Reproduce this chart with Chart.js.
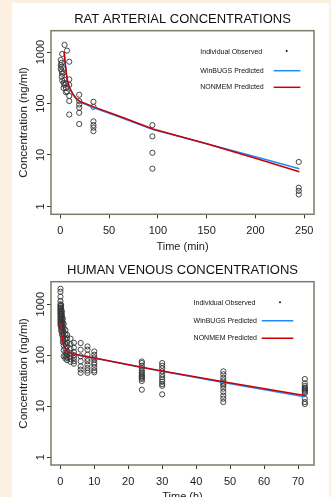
<!DOCTYPE html>
<html>
<head>
<meta charset="utf-8">
<script src="https://cdn.jsdelivr.net/npm/chart.js@4.4.0/dist/chart.umd.min.js"></script>
<style>
  html, body { margin: 0; padding: 0; }
  body { width: 331px; height: 497px; overflow: hidden; background: #fbf0e1; position: relative; }
  #sheet { position: absolute; left: 12px; top: 3px; width: 317px; height: 500px; background: #fff; }
  .panel { position: absolute; left: 0; width: 331px; height: 254px; }
  #ratPanel { top: 0; }
  #humanPanel { top: 250px; }
</style>
</head>
<body>
<div id="sheet"></div>
<div class="panel" id="ratPanel"><canvas id="ratChart"></canvas></div>
<div class="panel" id="humanPanel"><canvas id="humanChart"></canvas></div>
<script>
// text
const plotTitles = ['RAT ARTERIAL CONCENTRATIONS', 'HUMAN VENOUS CONCENTRATIONS'];
const xAxisTitles = ['Time (min)', 'Time (h)'];
const yAxisTitle = 'Concentration (ng/ml)';
const legendLabels = ['Individual Observed', 'WinBUGS Predicted', 'NONMEM Predicted'];

// tick labels
const yTickValues = [1, 10, 100, 1000];
const ratXTicks = [0, 50, 100, 150, 200, 250];
const humanXTicks = [0, 10, 20, 30, 40, 50, 60, 70];

// rat observed: sample times (min) and concentrations at each time (ng/ml)
const ratSampleTimes = [0.5, 1.5, 2, 3.4, 4.4, 5.8, 6.9, 9.2, 19.4, 34, 94.4, 244.4];
const ratConcAtTime = [
    [700, 560, 470],
    [620, 520, 420, 330],
    [920, 380, 280],
    [400, 250, 200],
    [1380, 290, 230],
    [250, 200, 165],
    [1070, 172],
    [650, 295, 230, 140, 112, 61],
    [148, 112, 95, 83, 66, 40],
    [108, 86, 45, 38, 34, 29],
    [38, 23, 11, 5.4],
    [7.3, 2.3, 2.0, 1.7]
];

// rat predicted curves
const ratPredTime = [4, 5, 7, 9.5, 13, 17, 21, 35, 60, 95, 150, 200, 245];
const ratWinbugs = [1000, 600, 290, 200, 148, 118, 105, 82, 55, 31, 16.5, 9.2, 5.4];
const ratNonmem = [1000, 620, 300, 205, 152, 122, 108, 85, 57, 32, 16.5, 8.6, 4.7];

// human observed: sample times (h) and concentrations at each time (ng/ml)
const humanSampleTimes = [0.05, 0.25, 0.5, 0.75, 1, 1.5, 2, 3, 4, 6, 8, 10, 24, 30, 48, 72];
const humanConcAtTime = [
    [2000, 1750, 1400, 1150, 1000, 920, 860, 800, 740, 690, 640, 590, 540, 500, 460, 420, 380],
    [960, 840, 740, 650, 570, 500, 440, 390, 340, 300],
    [720, 610, 530, 460, 400, 340, 290, 250],
    [520, 440, 370, 310, 260, 215, 180],
    [410, 340, 280, 230, 190, 155, 125, 95],
    [310, 255, 205, 165, 135, 112, 96, 86],
    [250, 215, 175, 148, 120, 102, 90, 80],
    [210, 165, 135, 110, 95, 84, 74],
    [175, 140, 115, 100, 88, 76, 68],
    [173, 128, 95, 76, 60, 52, 45],
    [148, 128, 102, 85, 76, 65, 56, 50, 45],
    [118, 102, 90, 82, 72, 65, 57, 50, 46],
    [75, 70, 62, 56, 50, 46, 43, 40, 38, 36, 34, 31, 21],
    [70, 62, 55, 48, 42, 37, 33, 30, 27, 25, 17],
    [48, 42, 36, 32, 29, 27, 25, 22, 19, 16, 14, 12],
    [34, 28, 25, 23, 22, 21, 20, 19, 18, 14, 12, 11]
];

// human predicted curves
const humanPredTime = [0.08, 0.5, 1, 2, 3.5, 6, 10, 24, 30, 48, 72];
const humanWinbugs = [430, 230, 150, 118, 107, 98, 88, 57, 48, 29, 15.2];
const humanNonmem = [430, 235, 152, 118, 107, 98, 88, 58, 49, 30, 16.2];

const FONT = '"Liberation Sans", Arial, sans-serif';
Chart.defaults.font.family = FONT;

const panelBox = {
    id: 'panelBox',
    afterDraw(chart) {
        const a = chart.chartArea;
        const ctx = chart.ctx;
        ctx.save();
        ctx.strokeStyle = '#7a7d69';
        ctx.lineWidth = 1.5;
        ctx.strokeRect(a.left, a.top, a.right - a.left, a.bottom - a.top);
        ctx.restore();
    }
};

const insetLegend = {
    id: 'insetLegend',
    afterDatasetsDraw(chart, args, opts) {
        const a = chart.chartArea;
        const ctx = chart.ctx;
        ctx.save();
        ctx.font = '7px ' + FONT;
        ctx.fillStyle = '#111';
        ctx.textBaseline = 'middle';
        legendLabels.forEach((label, i) => {
            const y = a.top + opts.rows[i];
            ctx.fillText(label, a.left + opts.textX, y);
            if (i === 0) {
                ctx.beginPath();
                ctx.arc(a.right - opts.dotX, y - 1, 1, 0, Math.PI * 2);
                ctx.fill();
            } else {
                ctx.strokeStyle = chart.data.datasets[i].borderColor;
                ctx.lineWidth = 1.5;
                ctx.beginPath();
                ctx.moveTo(a.right - opts.lineFrom, y);
                ctx.lineTo(a.right - opts.lineTo, y);
                ctx.stroke();
            }
        });
        ctx.restore();
    }
};

function toPoints(xs, ys) {
    return xs.map((x, i) => ({ x: x, y: ys[i] }));
}

function observedPoints(times, concs) {
    const pts = [];
    times.forEach((t, i) => {
        concs[i].forEach(c => pts.push({ x: t, y: c }));
    });
    return pts;
}

function makeChart(canvasId, cfg) {
    const tickGrid = {
        drawOnChartArea: false,
        drawTicks: true,
        tickLength: 4,
        tickColor: '#333',
        tickWidth: 1
    };
    return new Chart(document.getElementById(canvasId), {
        type: 'scatter',
        data: {
            datasets: [
                {
                    label: legendLabels[0],
                    data: observedPoints(cfg.sampleTimes, cfg.concAtTime),
                    pointStyle: 'circle',
                    pointRadius: 2.6,
                    borderWidth: 0.9,
                    borderColor: '#333',
                    backgroundColor: 'rgba(0,0,0,0)',
                    order: 2
                },
                {
                    label: legendLabels[1],
                    data: toPoints(cfg.predTime, cfg.winbugs),
                    showLine: true,
                    pointRadius: 0,
                    borderColor: '#1e8cff',
                    borderWidth: 1.5,
                    order: 1
                },
                {
                    label: legendLabels[2],
                    data: toPoints(cfg.predTime, cfg.nonmem),
                    showLine: true,
                    pointRadius: 0,
                    borderColor: '#cc0000',
                    borderWidth: 1.5,
                    order: 0
                }
            ]
        },
        options: {
            responsive: true,
            maintainAspectRatio: false,
            animation: false,
            devicePixelRatio: 1,
            layout: { padding: { left: 0, right: 17, top: 0, bottom: 0 } },
            plugins: {
                legend: { display: false },
                tooltip: { enabled: false },
                title: {
                    display: true,
                    text: cfg.title,
                    fullSize: false,
                    color: '#111',
                    font: { size: 13, weight: 'normal' },
                    padding: cfg.titlePad
                },
                insetLegend: cfg.legend
            },
            scales: {
                x: {
                    type: 'linear',
                    min: cfg.xMin,
                    max: cfg.xMax,
                    afterBuildTicks: s => { s.ticks = cfg.xTicks.map(v => ({ value: v })); },
                    afterFit: s => { s.height = cfg.xAxisHeight; },
                    grid: tickGrid,
                    border: { display: false },
                    ticks: { padding: 6.5, color: '#222', font: { size: 11 }, maxRotation: 0, autoSkip: false },
                    title: { display: true, text: cfg.xTitle, color: '#222', font: { size: 11 }, padding: { top: 0, bottom: 0 } }
                },
                y: {
                    type: 'logarithmic',
                    min: cfg.yMin,
                    max: cfg.yMax,
                    afterBuildTicks: s => { s.ticks = yTickValues.map(v => ({ value: v })); },
                    afterFit: s => { s.width = 51; },
                    grid: tickGrid,
                    border: { display: false },
                    ticks: {
                        padding: -6,
                        crossAlign: 'center',
                        minRotation: 90,
                        maxRotation: 90,
                        autoSkip: false,
                        color: '#222',
                        font: { size: 11 },
                        callback: v => String(v)
                    },
                    title: { display: true, text: yAxisTitle, color: '#222', font: { size: 11.5 }, padding: { top: 17, bottom: 0 } }
                }
            }
        },
        plugins: [panelBox, insetLegend]
    });
}

makeChart('ratChart', {
    title: plotTitles[0],
    xTitle: xAxisTitles[0],
    sampleTimes: ratSampleTimes,
    concAtTime: ratConcAtTime,
    predTime: ratPredTime,
    winbugs: ratWinbugs,
    nonmem: ratNonmem,
    xMin: -9.5, xMax: 260, xTicks: ratXTicks,
    yMin: 0.732, yMax: 2606,
    xAxisHeight: 39.7,
    titlePad: { top: 11.2, bottom: 3.9 },
    legend: { rows: [21.3, 40, 56.6], textX: 149.3, dotX: 27.3, lineFrom: 40.3, lineTo: 13.6 }
});

makeChart('humanChart', {
    title: plotTitles[1],
    xTitle: xAxisTitles[1],
    sampleTimes: humanSampleTimes,
    concAtTime: humanConcAtTime,
    predTime: humanPredTime,
    winbugs: humanWinbugs,
    nonmem: humanNonmem,
    xMin: -2.74, xMax: 74.7, xTicks: humanXTicks,
    yMin: 0.74, yMax: 2755,
    xAxisHeight: 39,
    titlePad: { top: 12.9, bottom: 3.2 },
    legend: { rows: [21.6, 39, 56.6], textX: 142.6, dotX: 34, lineFrom: 52.3, lineTo: 20.7 }
});
</script>
</body>
</html>
